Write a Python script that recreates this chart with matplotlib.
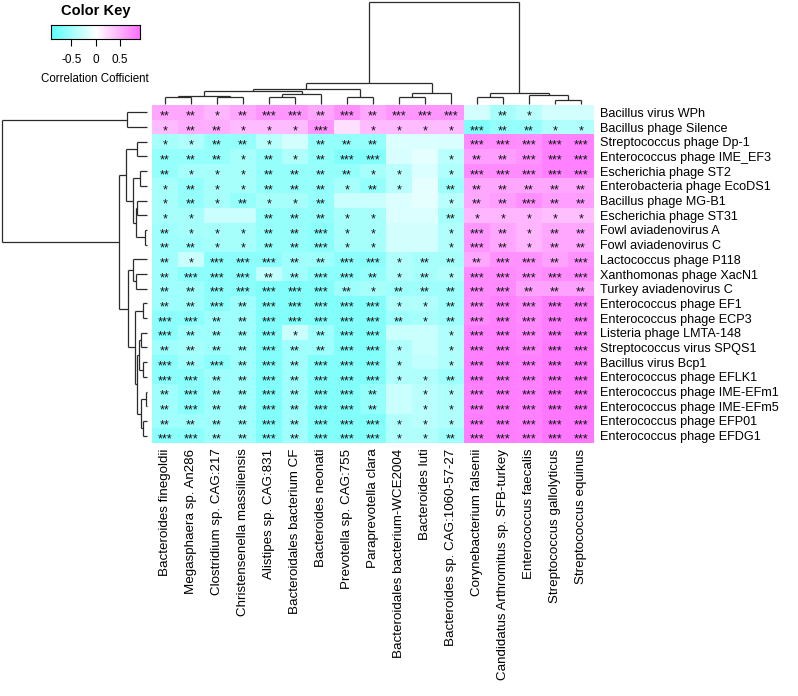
import numpy as np
import matplotlib
matplotlib.use('Agg')
import matplotlib.pyplot as plt
from matplotlib.colors import LinearSegmentedColormap, TwoSlopeNorm

plt.rcParams['font.family'] = ['Liberation Sans', 'DejaVu Sans']

# bacteria (columns) and phages (rows), in clustered order
bacteria = ['Bacteroides finegoldii', 'Megasphaera sp. An286', 'Clostridium sp. CAG:217',
            'Christensenella massiliensis', 'Alistipes sp. CAG:831', 'Bacteroidales bacterium CF',
            'Bacteroides neonati', 'Prevotella sp. CAG:755', 'Paraprevotella clara',
            'Bacteroidales bacterium-WCE2004', 'Bacteroides luti', 'Bacteroides sp. CAG:1060-57-27',
            'Corynebacterium falsenii', 'Candidatus Arthromitus sp. SFB-turkey',
            'Enterococcus faecalis', 'Streptococcus gallolyticus', 'Streptococcus equinus']

phages = ['Bacillus virus WPh', 'Bacillus phage Silence', 'Streptococcus phage Dp-1',
          'Enterococcus phage IME_EF3', 'Escherichia phage ST2', 'Enterobacteria phage EcoDS1',
          'Bacillus phage MG-B1', 'Escherichia phage ST31', 'Fowl aviadenovirus A',
          'Fowl aviadenovirus C', 'Lactococcus phage P118', 'Xanthomonas phage XacN1',
          'Turkey aviadenovirus C', 'Enterococcus phage EF1', 'Enterococcus phage ECP3',
          'Listeria phage LMTA-148', 'Streptococcus virus SPQS1', 'Bacillus virus Bcp1',
          'Enterococcus phage EFLK1', 'Enterococcus phage IME-EFm1', 'Enterococcus phage IME-EFm5',
          'Enterococcus phage EFP01', 'Enterococcus phage EFDG1']

corr = [
    [0.55, 0.55, 0.45, 0.55, 0.65, 0.65, 0.55, 0.70, 0.55, 0.65, 0.65, 0.65, -0.25, -0.50, -0.40, -0.25, -0.25],
    [0.42, 0.50, 0.50, 0.42, 0.42, 0.42, 0.65, 0.20, 0.42, 0.42, 0.42, 0.42, -0.70, -0.60, -0.60, -0.45, -0.45],
    [-0.50, -0.45, -0.60, -0.60, -0.40, -0.25, -0.60, -0.60, -0.60, -0.20, -0.20, -0.22, 0.72, 0.72, 0.70, 0.78, 0.78],
    [-0.60, -0.60, -0.60, -0.50, -0.60, -0.45, -0.60, -0.70, -0.70, -0.22, -0.15, -0.40, 0.60, 0.60, 0.68, 0.78, 0.78],
    [-0.60, -0.50, -0.50, -0.50, -0.60, -0.60, -0.60, -0.60, -0.50, -0.40, -0.20, -0.45, 0.72, 0.72, 0.72, 0.78, 0.78],
    [-0.50, -0.60, -0.50, -0.50, -0.60, -0.60, -0.60, -0.50, -0.60, -0.40, -0.15, -0.55, 0.55, 0.55, 0.55, 0.55, 0.55],
    [-0.50, -0.60, -0.50, -0.60, -0.50, -0.50, -0.60, -0.30, -0.30, -0.20, -0.15, -0.40, 0.55, 0.60, 0.70, 0.60, 0.60],
    [-0.50, -0.50, -0.30, -0.30, -0.60, -0.60, -0.60, -0.50, -0.50, -0.20, -0.20, -0.50, 0.45, 0.45, 0.45, 0.40, 0.40],
    [-0.55, -0.50, -0.50, -0.50, -0.60, -0.60, -0.65, -0.50, -0.50, -0.25, -0.25, -0.45, 0.65, 0.55, 0.45, 0.55, 0.55],
    [-0.55, -0.55, -0.50, -0.50, -0.60, -0.60, -0.65, -0.50, -0.50, -0.25, -0.25, -0.45, 0.65, 0.55, 0.45, 0.55, 0.55],
    [-0.55, -0.30, -0.65, -0.65, -0.65, -0.55, -0.55, -0.65, -0.65, -0.45, -0.50, -0.50, 0.55, 0.68, 0.68, 0.58, 0.68],
    [-0.55, -0.65, -0.65, -0.65, -0.35, -0.55, -0.65, -0.65, -0.60, -0.45, -0.50, -0.45, 0.72, 0.72, 0.68, 0.72, 0.72],
    [-0.55, -0.55, -0.65, -0.65, -0.70, -0.70, -0.70, -0.55, -0.50, -0.55, -0.55, -0.55, 0.72, 0.72, 0.58, 0.58, 0.58],
    [-0.55, -0.55, -0.65, -0.55, -0.70, -0.70, -0.70, -0.70, -0.70, -0.45, -0.45, -0.55, 0.72, 0.78, 0.72, 0.80, 0.80],
    [-0.65, -0.65, -0.55, -0.55, -0.70, -0.70, -0.70, -0.70, -0.70, -0.55, -0.50, -0.55, 0.72, 0.78, 0.72, 0.80, 0.80],
    [-0.65, -0.55, -0.55, -0.55, -0.70, -0.30, -0.55, -0.70, -0.70, -0.30, -0.30, -0.45, 0.78, 0.78, 0.74, 0.80, 0.80],
    [-0.55, -0.50, -0.55, -0.55, -0.70, -0.55, -0.55, -0.70, -0.70, -0.45, -0.30, -0.45, 0.78, 0.80, 0.75, 0.82, 0.82],
    [-0.65, -0.55, -0.65, -0.55, -0.70, -0.55, -0.70, -0.70, -0.70, -0.45, -0.35, -0.45, 0.80, 0.80, 0.78, 0.82, 0.82],
    [-0.65, -0.65, -0.55, -0.55, -0.70, -0.55, -0.70, -0.70, -0.70, -0.45, -0.45, -0.55, 0.80, 0.80, 0.78, 0.85, 0.85],
    [-0.55, -0.65, -0.55, -0.55, -0.70, -0.55, -0.70, -0.70, -0.60, -0.30, -0.40, -0.45, 0.78, 0.80, 0.78, 0.85, 0.85],
    [-0.55, -0.65, -0.55, -0.55, -0.70, -0.55, -0.70, -0.70, -0.60, -0.30, -0.40, -0.45, 0.78, 0.80, 0.78, 0.85, 0.85],
    [-0.55, -0.55, -0.55, -0.55, -0.70, -0.55, -0.70, -0.70, -0.70, -0.45, -0.40, -0.45, 0.80, 0.80, 0.78, 0.85, 0.85],
    [-0.65, -0.65, -0.55, -0.55, -0.70, -0.55, -0.70, -0.70, -0.70, -0.45, -0.45, -0.55, 0.80, 0.80, 0.78, 0.85, 0.85],
]

# significance marks, one string per row, cells separated by '|'
stars = [
    '**|**|*|**|***|***|**|***|**|***|***|***||**|*||',
    '*|**|**|*|*|*|***||*|*|*|*|***|**|**|*|*',
    '*|*|**|**|*||**|**|**||||***|***|***|***|***',
    '**|**|**|*|**|*|**|***|***|||*|**|**|***|***|***',
    '**|*|*|*|**|**|**|**|*|*||*|***|***|***|***|***',
    '*|**|*|*|**|**|**|*|**|*||**|**|**|**|**|**',
    '*|**|*|**|*|*|**|||||*|**|**|***|**|**',
    '*|*|||**|**|**|*|*|||**|*|*|*|*|*',
    '**|*|*|*|**|**|***|*|*|||*|***|**|*|**|**',
    '**|**|*|*|**|**|***|*|*|||*|***|**|*|**|**',
    '**|*|***|***|***|**|**|***|***|*|**|**|**|***|***|**|***',
    '**|***|***|***|**|**|***|***|**|*|**|*|***|***|***|***|***',
    '**|**|***|***|***|***|***|**|*|**|**|**|***|***|**|**|**',
    '**|**|***|**|***|***|***|***|***|*|*|**|***|***|***|***|***',
    '***|***|**|**|***|***|***|***|***|**|*|**|***|***|***|***|***',
    '***|**|**|**|***|*|**|***|***|||*|***|***|***|***|***',
    '**|**|**|**|***|**|**|***|***|*||*|***|***|***|***|***',
    '***|**|***|**|***|**|***|***|***|*||*|***|***|***|***|***',
    '***|***|**|**|***|**|***|***|***|*|*|**|***|***|***|***|***',
    '**|***|**|**|***|**|***|***|**||*|*|***|***|***|***|***',
    '**|***|**|**|***|**|***|***|**||*|*|***|***|***|***|***',
    '**|**|**|**|***|**|***|***|***|*|*|*|***|***|***|***|***',
    '***|***|**|**|***|**|***|***|***|*|*|**|***|***|***|***|***',
]

# merges (left, right, height); ids >= n are earlier merges
row_merges = [(0, 1, 20.3), (2, 3, 10.3), (4, 5, 7.0), (6, 7, 10.3), (8, 9, 2.3),
              (26, 27, 11.5), (25, 28, 14.3), (24, 29, 21.0), (11, 12, 11.0), (10, 31, 13.7),
              (13, 14, 4.5), (15, 16, 6.3), (17, 18, 3.7), (19, 20, 0.7), (21, 22, 3.7),
              (34, 35, 7.7), (36, 37, 6.3), (38, 39, 10.3), (33, 40, 12.5), (32, 41, 18.7),
              (30, 42, 27.7), (23, 43, 145.3)]
col_merges = [(0, 1, 7.3), (2, 3, 7.3), (4, 5, 7.3), (7, 8, 7.3), (9, 10, 7.3),
              (17, 18, 8.3), (19, 6, 9.7), (22, 23, 13.3), (24, 20, 14.7), (21, 11, 11.3),
              (25, 26, 20.7), (12, 13, 7.3), (15, 16, 4.5), (14, 29, 9.0), (28, 30, 11.3),
              (27, 31, 102.3)]

key_ticks = [-0.5, 0, 0.5]
vmin, vmax = -0.93, 0.92

W, H = 798, 696


def px_axes(fig, x0, y0, x1, y1):
    return fig.add_axes([x0 / W, 1 - y1 / H, (x1 - x0) / W, (y1 - y0) / H])


def draw_dendro(ax, merges, n, vertical):
    pos = {i: float(i) for i in range(n)}
    hgt = {i: 0.0 for i in range(n)}
    for k, (a, b, h) in enumerate(merges):
        segs = [((pos[a], hgt[a]), (pos[a], h)), ((pos[a], h), (pos[b], h)), ((pos[b], h), (pos[b], hgt[b]))]
        for (p1, h1), (p2, h2) in segs:
            if vertical:
                ax.plot([p1, p2], [h1, h2], color='#2b2b2b', lw=0.9, clip_on=False, solid_capstyle='butt')
            else:
                ax.plot([h1, h2], [p1, p2], color='#2b2b2b', lw=0.9, clip_on=False, solid_capstyle='butt')
        pos[n + k] = (pos[a] + pos[b]) / 2
        hgt[n + k] = h
    ax.axis('off')


cmap = LinearSegmentedColormap.from_list('cwm', ['#5CFFFB', '#FFFFFF', '#FF6CFF'])
norm = TwoSlopeNorm(vcenter=0, vmin=vmin, vmax=vmax)

fig = plt.figure(figsize=(W / 100, H / 100), dpi=100)

# heatmap
hx0, hy0, hx1, hy1 = 152, 105, 594, 443
ax = px_axes(fig, hx0, hy0, hx1, hy1)
data = np.array(corr)
ax.imshow(data, cmap=cmap, norm=norm, aspect='auto', interpolation='nearest')
for i, row in enumerate(stars):
    for j, s in enumerate(row.split('|')):
        if s:
            ax.text(j, i + 0.28, s, ha='center', va='center', fontsize=9, color='#111111')
for sp in ax.spines.values():
    sp.set_visible(False)
ax.set_xticks(range(len(bacteria)))
ax.set_xticklabels(bacteria, rotation=90, fontsize=9.6)
ax.set_yticks(range(len(phages)))
ax.set_yticklabels(phages, fontsize=9.1)
ax.yaxis.tick_right()
ax.tick_params(length=0, pad=4)
ax.set_xlim(-0.5, len(bacteria) - 0.5)
ax.set_ylim(len(phages) - 0.5, -0.5)

# row dendrogram
rax = px_axes(fig, 1.7, hy0, 147, hy1)
draw_dendro(rax, row_merges, len(phages), vertical=False)
rax.set_xlim(row_merges[-1][2], 0)
rax.set_ylim(len(phages) - 0.5, -0.5)

# column dendrogram
cax = px_axes(fig, hx0, 1.7, hx1, 104)
draw_dendro(cax, col_merges, len(bacteria), vertical=True)
cax.set_ylim(0, col_merges[-1][2])
cax.set_xlim(-0.5, len(bacteria) - 0.5)

# color key
kax = px_axes(fig, 50.7, 25, 140, 39)
grad = np.linspace(vmin, vmax, 256).reshape(1, -1)
kax.imshow(grad, cmap=cmap, norm=norm, aspect='auto', extent=[vmin, vmax, 0, 1])
kax.set_yticks([])
kax.set_xticks(key_ticks)
kax.set_xticklabels(['-0.5', '0', '0.5'], fontsize=8.5)
kax.tick_params(axis='x', length=5, width=0.8, pad=6)
for sp in kax.spines.values():
    sp.set_linewidth(0.8)
kax.set_xlabel('Correlation Cofficient', fontsize=8.3, labelpad=5)
kax.set_title('Color Key', fontsize=10.5, fontweight='bold', pad=7)

fig.savefig('out.png', dpi=100)
